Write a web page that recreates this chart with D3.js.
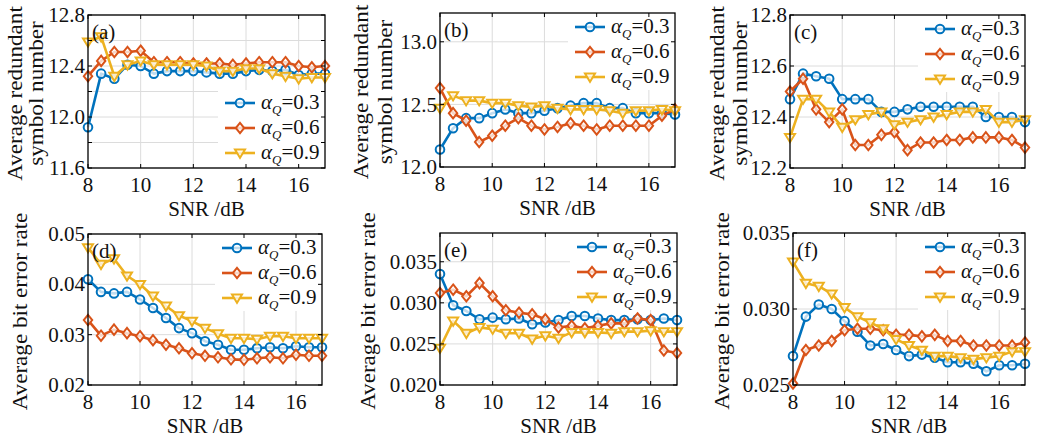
<!DOCTYPE html>
<html>
<head>
<meta charset="utf-8">
<script src="https://cdn.jsdelivr.net/npm/d3@7"></script>
<style>
  html, body { margin: 0; padding: 0; background: #fff; }
  svg { display: block; }
  text { font-family: "Liberation Serif", "Times New Roman", serif; fill: #111; }
</style>
</head>
<body>
<svg id="chart" width="1038" height="441"></svg>
<script>
// SNR sweep, shared by every panel
var snr = [8, 8.5, 9, 9.5, 10, 10.5, 11, 11.5, 12, 12.5, 13, 13.5, 14, 14.5, 15, 15.5, 16, 16.5, 17];
var alphaLabels = ['0.3', '0.6', '0.9'];
var xTicks = [8, 10, 12, 14, 16];

// (a) average redundant symbol number
var symA03 = [11.92, 12.34, 12.30, 12.41, 12.40, 12.34, 12.36, 12.36, 12.36, 12.35, 12.34, 12.34, 12.36, 12.37, 12.36, 12.37, 12.33, 12.34, 12.34];
var symA06 = [12.32, 12.44, 12.51, 12.51, 12.52, 12.43, 12.43, 12.43, 12.42, 12.42, 12.42, 12.41, 12.42, 12.43, 12.43, 12.43, 12.40, 12.39, 12.40];
var symA09 = [12.59, 12.63, 12.32, 12.41, 12.44, 12.41, 12.41, 12.41, 12.41, 12.40, 12.36, 12.36, 12.38, 12.38, 12.34, 12.32, 12.30, 12.31, 12.31];
// (b)
var symB03 = [12.14, 12.31, 12.39, 12.39, 12.43, 12.46, 12.43, 12.43, 12.45, 12.47, 12.49, 12.51, 12.51, 12.47, 12.47, 12.43, 12.43, 12.43, 12.42];
var symB06 = [12.63, 12.43, 12.37, 12.20, 12.25, 12.33, 12.39, 12.33, 12.30, 12.32, 12.35, 12.33, 12.30, 12.33, 12.33, 12.33, 12.33, 12.41, 12.46];
var symB09 = [12.47, 12.57, 12.53, 12.53, 12.51, 12.51, 12.49, 12.48, 12.49, 12.47, 12.46, 12.46, 12.46, 12.45, 12.43, 12.45, 12.45, 12.46, 12.45];
// (c)
var symC03 = [12.47, 12.57, 12.56, 12.55, 12.47, 12.47, 12.47, 12.42, 12.42, 12.43, 12.44, 12.44, 12.44, 12.44, 12.44, 12.40, 12.40, 12.40, 12.38];
var symC06 = [12.50, 12.55, 12.43, 12.38, 12.43, 12.29, 12.29, 12.33, 12.34, 12.27, 12.30, 12.30, 12.31, 12.31, 12.32, 12.32, 12.32, 12.31, 12.28];
var symC09 = [12.32, 12.47, 12.47, 12.42, 12.36, 12.39, 12.41, 12.42, 12.37, 12.38, 12.39, 12.40, 12.41, 12.42, 12.42, 12.43, 12.38, 12.38, 12.39];

// (d) average bit error rate
var berD03 = [0.0410, 0.0385, 0.0382, 0.0385, 0.0370, 0.0353, 0.0333, 0.0313, 0.0303, 0.0287, 0.0280, 0.0270, 0.0270, 0.0273, 0.0275, 0.0273, 0.0277, 0.0275, 0.0275];
var berD06 = [0.0329, 0.0298, 0.0310, 0.0303, 0.0297, 0.0289, 0.0280, 0.0273, 0.0263, 0.0258, 0.0255, 0.0251, 0.0250, 0.0253, 0.0255, 0.0253, 0.0260, 0.0258, 0.0258];
var berD09 = [0.0473, 0.0440, 0.0451, 0.0417, 0.0400, 0.0377, 0.0357, 0.0338, 0.0327, 0.0313, 0.0302, 0.0293, 0.0293, 0.0291, 0.0297, 0.0297, 0.0293, 0.0293, 0.0293];
// (e)
var berE03 = [0.0335, 0.0297, 0.0290, 0.0280, 0.0282, 0.0280, 0.0281, 0.0274, 0.0276, 0.0279, 0.0284, 0.0284, 0.0281, 0.0279, 0.0279, 0.0280, 0.0279, 0.0281, 0.0279];
var berE06 = [0.0312, 0.0316, 0.0308, 0.0324, 0.0308, 0.0291, 0.0288, 0.0286, 0.0280, 0.0270, 0.0272, 0.0269, 0.0272, 0.0275, 0.0275, 0.0281, 0.0279, 0.0242, 0.0239];
var berE09 = [0.0245, 0.0278, 0.0263, 0.0270, 0.0268, 0.0263, 0.0263, 0.0256, 0.0260, 0.0257, 0.0264, 0.0264, 0.0264, 0.0263, 0.0265, 0.0265, 0.0266, 0.0265, 0.0265];
// (f)
var berF03 = [0.0269, 0.0295, 0.0303, 0.0300, 0.0292, 0.0285, 0.0276, 0.0277, 0.0273, 0.0269, 0.0270, 0.0268, 0.0265, 0.0265, 0.0264, 0.0259, 0.0263, 0.0263, 0.0264];
var berF06 = [0.0251, 0.0273, 0.0276, 0.0279, 0.0286, 0.0287, 0.0287, 0.0286, 0.0283, 0.0283, 0.0282, 0.0283, 0.0279, 0.0279, 0.0276, 0.0276, 0.0276, 0.0276, 0.0278];
var berF09 = [0.0331, 0.0317, 0.0315, 0.0310, 0.0301, 0.0295, 0.0291, 0.0287, 0.0280, 0.0276, 0.0273, 0.0269, 0.0269, 0.0268, 0.0267, 0.0268, 0.0269, 0.0272, 0.0272];

var ticksA = [11.6, 12.0, 12.4, 12.8];
var ticksB = [12.0, 12.5, 13.0];
var ticksC = [12.2, 12.4, 12.6, 12.8];
var ticksD = [0.02, 0.03, 0.04, 0.05];
var ticksE = [0.020, 0.025, 0.030, 0.035];
var ticksF = [0.025, 0.030, 0.035];

var colors = ['#0072BD', '#D95319', '#EDB120'];
var markers = ['circle', 'diamond', 'triangle'];

// layout for each panel (pixel box of the axes)
var panels = [
  {tag: '(a)', box: [88, 325, 15, 168], yDomain: [11.6, 12.8], ticks: ticksA, grid: d3.range(11.6, 12.81, 0.2), fmt: '.1f',
   series: [symA03, symA06, symA09], legend: 'bottom', title: ['Average redundant', 'symbol number'], titleX: [15, 36]},
  {tag: '(b)', box: [440, 675, 13, 167], yDomain: [12.0, 13.23], ticks: ticksB, grid: ticksB, fmt: '.1f',
   series: [symB03, symB06, symB09], legend: 'top', title: ['Average redundant', 'symbol number'], titleX: [361, 385]},
  {tag: '(c)', box: [790, 1025, 15, 168], yDomain: [12.2, 12.8], ticks: ticksC, grid: ticksC, fmt: '.1f',
   series: [symC03, symC06, symC09], legend: 'top', title: ['Average redundant', 'symbol number'], titleX: [717, 740]},
  {tag: '(d)', box: [88, 322, 234, 385], yDomain: [0.02, 0.05], ticks: ticksD, grid: ticksD, fmt: '.2f',
   series: [berD03, berD06, berD09], legend: 'top', title: ['Average bit error rate'], titleX: [20]},
  {tag: '(e)', box: [440, 677, 233, 385], yDomain: [0.02, 0.0385], ticks: ticksE, grid: ticksE, fmt: '.3f',
   series: [berE03, berE06, berE09], legend: 'top', title: ['Average bit error rate'], titleX: [368]},
  {tag: '(f)', box: [793, 1025, 233, 385], yDomain: [0.025, 0.035], ticks: ticksF, grid: ticksF, fmt: '.3f',
   series: [berF03, berF06, berF09], legend: 'top', title: ['Average bit error rate'], titleX: [722]}
];

var svg = d3.select('#chart');
var FS = 21;
// the original font is wider than Times in lower case; stretch titles a bit
var STRETCH = 1.1;

function markerPath(kind) {
  if (kind === 'circle') return d3.symbol().type(d3.symbolCircle).size(Math.PI * 4.3 * 4.3)();
  if (kind === 'diamond') return 'M0,-5.2L4.2,0L0,5.2L-4.2,0Z';
  return 'M-5,-3.4L5,-3.4L0,4.8Z';
}

function drawMarker(g, kind, color, x, y) {
  g.append('path')
    .attr('d', markerPath(kind))
    .attr('transform', 'translate(' + x + ',' + y + ')')
    .attr('fill', '#fff')
    .attr('fill-opacity', 0.75)
    .attr('stroke', color)
    .attr('stroke-width', 2);
}

panels.forEach(function(p) {
  var x0 = p.box[0], x1 = p.box[1], y0 = p.box[2], y1 = p.box[3];
  var x = d3.scaleLinear().domain([8, 17]).range([x0, x1]);
  var y = d3.scaleLinear().domain(p.yDomain).range([y1, y0]);
  var g = svg.append('g');

  // grid
  g.selectAll('.gx').data(xTicks.slice(1)).enter().append('line')
    .attr('x1', function(d) { return x(d); }).attr('x2', function(d) { return x(d); })
    .attr('y1', y0).attr('y2', y1)
    .attr('stroke', '#dcdcdc').attr('stroke-width', 1);
  g.selectAll('.gy').data(p.grid).enter().append('line')
    .attr('x1', x0).attr('x2', x1)
    .attr('y1', function(d) { return y(d); }).attr('y2', function(d) { return y(d); })
    .attr('stroke', '#dcdcdc').attr('stroke-width', 1);

  // series
  var line = d3.line().x(function(d, i) { return x(snr[i]); }).y(function(d) { return y(d); });
  p.series.forEach(function(vals, k) {
    g.append('path').datum(vals)
      .attr('d', line)
      .attr('fill', 'none')
      .attr('stroke', colors[k])
      .attr('stroke-width', 2.6)
      .attr('stroke-linejoin', 'round');
    vals.forEach(function(v, i) {
      drawMarker(g, markers[k], colors[k], x(snr[i]), y(v));
    });
  });

  // legend
  var lx = x1 - 100;
  var rows = p.legend === 'top' ? [y0 + 14, y0 + 39, y0 + 64] : [y1 - 65, y1 - 40, y1 - 15];
  g.append('rect')
    .attr('x', lx - 7).attr('y', rows[0] - 13)
    .attr('width', x1 - 1 - (lx - 7)).attr('height', rows[2] - rows[0] + 26)
    .attr('fill', '#fff');
  alphaLabels.forEach(function(lab, k) {
    var ry = rows[k];
    g.append('line').attr('x1', lx).attr('x2', lx + 30).attr('y1', ry).attr('y2', ry)
      .attr('stroke', colors[k]).attr('stroke-width', 2.6);
    drawMarker(g, markers[k], colors[k], lx + 15, ry);
    var t = g.append('text').attr('x', lx + 36).attr('y', ry + 6).attr('font-size', FS);
    t.append('tspan').attr('font-style', 'italic').text('α');
    t.append('tspan').attr('font-style', 'italic').attr('font-size', 13).attr('dy', 5).text('Q');
    t.append('tspan').attr('dy', -5).text('=' + lab);
  });

  // frame and inward ticks
  g.append('rect').attr('x', x0).attr('y', y0).attr('width', x1 - x0).attr('height', y1 - y0)
    .attr('fill', 'none').attr('stroke', '#000').attr('stroke-width', 1.3);
  xTicks.forEach(function(d) {
    g.append('line').attr('x1', x(d)).attr('x2', x(d)).attr('y1', y1).attr('y2', y1 - 4).attr('stroke', '#000');
    g.append('line').attr('x1', x(d)).attr('x2', x(d)).attr('y1', y0).attr('y2', y0 + 4).attr('stroke', '#000');
  });
  p.grid.forEach(function(d) {
    g.append('line').attr('x1', x0).attr('x2', x0 + 4).attr('y1', y(d)).attr('y2', y(d)).attr('stroke', '#000');
    g.append('line').attr('x1', x1).attr('x2', x1 - 4).attr('y1', y(d)).attr('y2', y(d)).attr('stroke', '#000');
  });

  // tick labels
  var fmt = d3.format(p.fmt);
  g.selectAll('.xl').data(xTicks).enter().append('text')
    .attr('x', function(d) { return x(d); }).attr('y', y1 + 23.5)
    .attr('text-anchor', 'middle').attr('font-size', FS)
    .text(function(d) { return d; });
  g.selectAll('.yl').data(p.ticks).enter().append('text')
    .attr('x', x0 - 3).attr('y', function(d) { return y(d); }).attr('dy', '0.34em')
    .attr('text-anchor', 'end').attr('font-size', FS)
    .text(function(d) { return fmt(d); });

  // axis titles
  g.append('text').attr('x', (x0 + x1) / 2).attr('y', y1 + 47.5)
    .attr('text-anchor', 'middle').attr('font-size', FS).text('SNR /dB');
  p.title.forEach(function(s, i) {
    var cy = (y0 + y1) / 2 + 2;
    var t = g.append('text')
      .attr('transform', 'translate(' + p.titleX[i] + ',' + cy + ') rotate(-90)')
      .attr('dy', '0.34em').attr('text-anchor', 'middle').attr('font-size', FS)
      .text(s);
    var w = t.node().getComputedTextLength();
    t.attr('textLength', w * STRETCH).attr('lengthAdjust', 'spacingAndGlyphs');
  });

  // panel tag
  g.append('text').attr('x', x0 + 4).attr('y', y0 + 24).attr('font-size', FS).text(p.tag);
});
</script>
</body>
</html>
